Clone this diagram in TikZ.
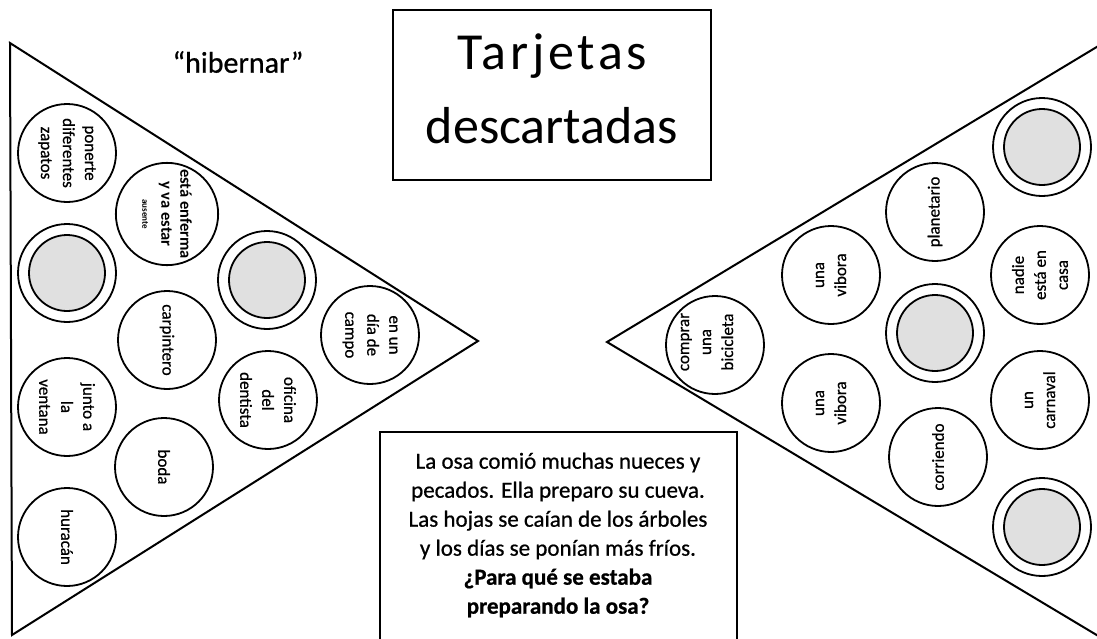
\documentclass[tikz,border=0pt]{standalone}
\usepackage{fontspec}
\setmainfont{Carlito}
\newfontfamily\scanfont[FakeBold=0.7]{Carlito}

\begin{document}
\begin{tikzpicture}[x=1pt, y=-1pt,
	card/.style={circle, draw, line width=1.8pt, minimum size=98pt, inner sep=0pt, align=center, font=\scanfont\fontsize{17}{22}\selectfont},
	lcard/.style={card, rotate=-90},
	rcard/.style={card, rotate=90},
	hole/.style={circle, draw, line width=1.8pt, minimum size=76pt, inner sep=0pt, fill=black!12},
	side/.style={line width=2pt, line join=miter}]
	\useasboundingbox (0,0) rectangle (1097,638);

	% left triangle
	\draw[side] (10,43) -- (478,341) -- (12,635) -- cycle;
	\node[lcard] (zap) at (67,153) {ponerte\\diferentes\\zapatos};
	\node[lcard, font=\bfseries\fontsize{16.5}{19}\selectfont] (enf) at (167,214) {está enferma\\y va estar\\{\fontsize{9}{10}\selectfont ausente}};
	\node[lcard] (carp) at (167,340) {carpintero};
	\node[lcard] (campo) at (370,335) {en un\\día de\\campo};
	\node[lcard] (dent) at (268,400) {oficina\\del\\dentista};
	\node[lcard] (vent) at (67,407) {junto a\\la\\ventana};
	\node[lcard] (boda) at (164,467) {boda};
	\node[lcard] (hur) at (67,537) {huracán};

	% right triangle
	\draw[side] (1100,45) -- (607,342) -- (1100,637);
	\node[rcard] (plan) at (935,212) {planetario};
	\node[rcard] (nadie) at (1040,275) {nadie\\está en\\casa};
	\node[rcard] (vib1) at (831,275) {una\\vibora};
	\node[rcard] (bici) at (715,345) {};
	\node[rotate=90, align=center, font=\scanfont\fontsize{17}{22}\selectfont] (bici-t) at (707,342) {comprar\\una\\bicicleta};
	\node[rcard] (vib2) at (831,403) {una\\vibora};
	\node[rcard] (carn) at (1040,400) {un\\carnaval};
	\node[rcard] (corr) at (938,457) {corriendo};

	% blank cards
	\foreach \n/\x/\y in {ra/67/273, rb/267/280, rc/1042/147, rd/935/333, re/1042/527} {
		\node[card] (\n) at (\x,\y) {};
		\node[hole] (\n-in) at (\n) {};
	}

	\node[font=\scanfont\fontsize{30}{34}\selectfont] (word) at (238,62) {“hibernar”};
	\node[draw, line width=1.6pt, minimum width=318pt, minimum height=170pt] (title) at (552,95) {};
	\node[align=center, font=\fontsize{52}{74}\selectfont] (titletext) at (552,89) {{\addfontfeature{LetterSpace=7}Tarjetas}\\descartadas};

	\draw[line width=1.6pt] (380,650) |- (737,432) -- (737,650);
	\node[align=center, font=\scanfont\fontsize{23}{29}\selectfont] (quest) at (558,535) {La osa comió muchas nueces y\\pecados. Ella preparo su cueva.\\Las hojas se caían de los árboles\\y los días se ponían más fríos.\\\textbf{¿Para qué se estaba}\\\textbf{preparando la osa?}};
\end{tikzpicture}
\end{document}
